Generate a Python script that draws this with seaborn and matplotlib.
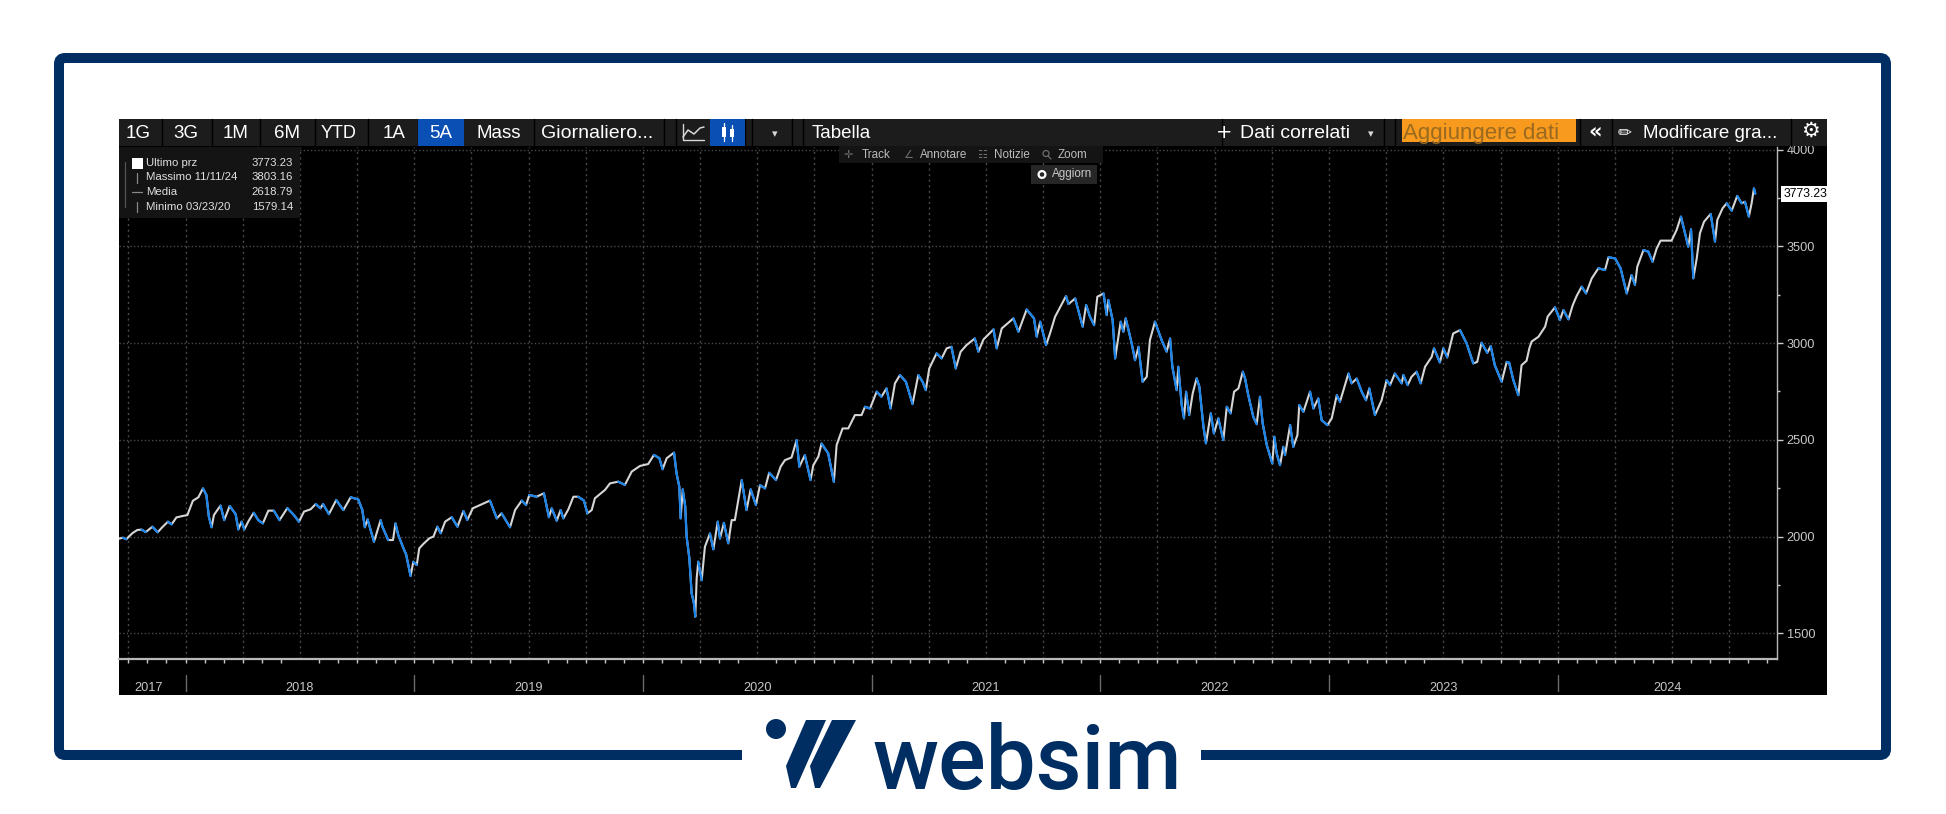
import numpy as np
import pandas as pd
import matplotlib
matplotlib.use("Agg")
import matplotlib.pyplot as plt
from matplotlib.patches import FancyBboxPatch, Rectangle, Polygon, Circle
from matplotlib.transforms import blended_transform_factory
import seaborn as sns

# ---------------- data ----------------
years = [
2017.709,2017.726,2017.741,2017.767,2017.789,2017.808,2017.826,2017.855,2017.878,2017.898,2017.923,2017.939,2017.960,2017.986,
2018.008,2018.032,2018.056,2018.076,2018.091,2018.102,2018.114,2018.124,2018.139,2018.153,2018.169,2018.193,2018.219,2018.231,2018.245,2018.257,
2018.274,2018.298,2018.318,2018.338,2018.362,2018.386,2018.411,2018.445,2018.474,2018.496,2018.518,2018.547,2018.569,2018.590,2018.601,2018.627,
2018.659,2018.690,2018.722,2018.755,2018.773,2018.784,2018.796,2018.824,2018.853,2018.860,2018.886,2018.907,2018.918,2018.930,2018.950,2018.965,2018.984,
2018.996,2019.011,2019.022,2019.040,2019.066,2019.084,2019.101,2019.116,2019.135,2019.164,2019.189,2019.215,2019.232,2019.256,2019.288,2019.331,
2019.361,2019.382,2019.419,2019.441,2019.470,2019.489,2019.503,2019.535,2019.567,2019.589,2019.601,2019.623,2019.640,2019.652,2019.674,2019.696,
2019.717,2019.742,2019.757,2019.776,2019.790,2019.834,2019.856,2019.892,2019.921,2019.951,2019.987,2020.023,2020.048,2020.072,2020.086,2020.104,
2020.136,2020.147,2020.159,2020.165,2020.174,2020.185,2020.191,2020.203,2020.213,2020.223,2020.229,2020.235,2020.242,2020.257,2020.271,2020.293,
2020.308,2020.327,2020.337,2020.354,2020.373,2020.388,2020.402,2020.432,2020.453,2020.471,2020.494,2020.512,2020.534,2020.552,2020.582,2020.602,
2020.621,2020.650,2020.672,2020.684,2020.708,2020.733,2020.745,2020.767,2020.781,2020.810,2020.835,2020.847,2020.873,2020.898,2020.927,2020.956,
2020.971,2020.993,2021.022,2021.043,2021.065,2021.083,2021.102,2021.124,2021.150,2021.179,2021.204,2021.223,2021.237,2021.252,2021.284,2021.306,
2021.328,2021.349,2021.368,2021.389,2021.415,2021.451,2021.467,2021.489,2021.533,2021.547,2021.569,2021.620,2021.642,2021.678,2021.710,2021.722,
2021.737,2021.763,2021.780,2021.802,2021.850,2021.861,2021.890,2021.923,2021.938,2021.955,2021.973,2021.987,2022.014,2022.028,2022.035,2022.054,
2022.065,2022.089,2022.101,2022.111,2022.137,2022.152,2022.167,2022.185,2022.203,2022.217,2022.239,2022.268,2022.290,2022.305,2022.315,2022.334,
2022.341,2022.356,2022.366,2022.375,2022.389,2022.404,2022.421,2022.433,2022.451,2022.462,2022.483,2022.497,2022.516,2022.538,2022.553,2022.570,
2022.585,2022.604,2022.623,2022.633,2022.647,2022.669,2022.684,2022.698,2022.710,2022.728,2022.752,2022.761,2022.771,2022.786,2022.800,2022.808,
2022.830,2022.844,2022.862,2022.870,2022.888,2022.917,2022.932,2022.953,2022.968,2022.993,2023.012,2023.034,2023.048,2023.085,2023.099,2023.121,
2023.143,2023.162,2023.176,2023.201,2023.230,2023.252,2023.267,2023.288,2023.318,2023.325,2023.344,2023.361,2023.383,2023.401,2023.420,2023.449,
2023.459,2023.485,2023.500,2023.517,2023.543,2023.573,2023.602,2023.631,2023.648,2023.667,2023.692,2023.707,2023.725,2023.755,2023.777,2023.788,
2023.806,2023.828,2023.842,2023.864,2023.876,2023.886,2023.916,2023.945,2023.956,2023.988,2024.010,2024.025,2024.047,2024.066,2024.083,2024.105,
2024.124,2024.149,2024.178,2024.207,2024.222,2024.251,2024.275,2024.302,2024.323,2024.338,2024.348,2024.375,2024.396,2024.415,2024.433,2024.450,
2024.498,2024.520,2024.539,2024.557,2024.571,2024.583,2024.593,2024.608,2024.622,2024.640,2024.669,2024.688,2024.698,2024.721,2024.739,2024.761,
2024.785,2024.804,2024.819,2024.836,2024.848,2024.858,2024.864]
closes = [
1989,1994,1986,2017,2034,2036,2023,2051,2022,2048,2077,2063,2099,2106,
2111,2185,2203,2249,2215,2103,2048,2111,2137,2160,2085,2158,2116,2037,2077,2037,
2077,2123,2085,2068,2134,2134,2085,2147,2111,2077,2129,2141,2168,2146,2168,2116,
2189,2137,2203,2192,2137,2048,2089,1973,2085,2054,1982,1982,2068,2008,1948,1905,1796,
1870,1853,1939,1962,1991,2000,2051,2017,2077,2100,2051,2132,2086,2146,2163,2186,
2094,2120,2048,2137,2186,2163,2215,2206,2224,2100,2146,2082,2137,2094,2141,2206,
2206,2186,2120,2137,2198,2241,2275,2284,2267,2336,2365,2375,2422,2405,2348,2405,
2434,2327,2258,2094,2244,2155,2000,1888,1707,1655,1586,1784,1870,1775,1947,2016,
1934,2077,1990,2071,1965,2085,2085,2292,2137,2244,2163,2266,2249,2330,2292,2361,
2395,2409,2499,2361,2421,2292,2369,2413,2481,2430,2283,2473,2559,2559,2628,2628,
2671,2662,2749,2723,2766,2662,2792,2835,2800,2685,2835,2800,2757,2869,2947,2921,
2973,2981,2869,2955,2990,3024,2956,3019,3071,2973,3076,3128,3059,3174,3128,3033,
3111,2990,3050,3136,3243,3202,3231,3085,3197,3136,3093,3240,3257,3145,3223,3119,
2921,3111,3059,3128,3000,2912,2981,2800,2826,3016,3111,3016,2956,3024,2878,2757,
2878,2680,2611,2749,2628,2740,2818,2775,2568,2482,2637,2533,2611,2499,2671,2637,
2749,2766,2852,2817,2731,2619,2581,2723,2585,2473,2378,2516,2430,2369,2464,2421,
2576,2464,2525,2680,2645,2749,2662,2714,2602,2576,2611,2731,2697,2843,2792,2817,
2749,2705,2766,2628,2705,2809,2783,2843,2792,2835,2783,2826,2852,2792,2878,2929,
2973,2900,2973,2926,3050,3067,2998,2895,2903,3002,2950,2985,2886,2800,2903,2898,
2809,2731,2886,2909,2973,3008,3033,3085,3137,3185,3120,3171,3123,3197,3244,3292,
3257,3335,3387,3378,3444,3438,3387,3257,3352,3301,3395,3481,3473,3421,3490,3530,
3530,3585,3654,3568,3499,3588,3335,3438,3568,3628,3668,3525,3637,3697,3723,3685,
3761,3723,3731,3654,3723,3800,3773]

year_labels = ["2017", "2018", "2019", "2020", "2021", "2022", "2023", "2024"]
year_label_pos = [2017.84, 2018.5, 2019.5, 2020.5, 2021.5, 2022.5, 2023.5, 2024.48]
year_starts = [2018, 2019, 2020, 2021, 2022, 2023, 2024]
y_major = [1500, 2000, 2500, 3000, 3500, 4000]
y_minor = [1750, 2250, 2750, 3250, 3750]
toolbar_left = ["1G", "3G", "1M", "6M", "YTD", "1A", "5A", "Mass", "Giornaliero..."]
legend_names = ["Ultimo prz", "Massimo 11/11/24", "Media", "Minimo 03/23/20"]
legend_values = ["3773.23", "3803.16", "2618.79", "1579.14"]
last_price = 3773.23

# ---------------- style ----------------
W, H = 1946, 814
NAVY = "#002d62"
BLUE = "#1a84ea"
SANS = ["Liberation Sans", "DejaVu Sans"]
sns.set_theme(style="dark", rc={"axes.grid": False})
plt.rcParams["font.family"] = SANS

fig = plt.figure(figsize=(W / 100, H / 100), dpi=100, facecolor="white")
bg = fig.add_axes([0, 0, 1, 1], zorder=0)
bg.set_xlim(0, W); bg.set_ylim(H, 0); bg.axis("off")

# frame with gap for the logo
bg.add_patch(FancyBboxPatch((59, 58), 1827, 697, boxstyle="round,pad=0,rounding_size=6",
                            fc="none", ec=NAVY, lw=7.2))
bg.add_patch(Rectangle((742, 740), 459, 30, fc="white", ec="none", zorder=2))

# black panel
bg.add_patch(Rectangle((119, 119), 1708, 576, fc="black", ec="none"))

# logo
bg.add_patch(Circle((776, 729), 10, fc=NAVY, ec="none", zorder=3))
bg.add_patch(Polygon([(806, 720), (826, 720), (796, 788), (791, 788), (786, 766)], fc=NAVY, ec="none", zorder=3))
bg.add_patch(Polygon([(832, 720), (856, 720), (820, 788), (815, 788), (810, 766)], fc=NAVY, ec="none", zorder=3))
bg.text(1027, 789, "websim", family="Roboto", fontsize=64, fontweight="medium", color=NAVY,
        ha="center", va="baseline", zorder=3)

# ---------------- chart ----------------
ax_l, ax_r, ax_t, ax_b = 119, 1777, 147, 659
ax = fig.add_axes([ax_l / W, 1 - ax_b / H, (ax_r - ax_l) / W, (ax_b - ax_t) / H], zorder=1)
ax.set_facecolor("black")
ax.patch.set_alpha(0)

df = pd.DataFrame({"year": years, "close": closes})
sns.lineplot(data=df, x="year", y="close", color="#d6d6d6", lw=1.5, errorbar=None,
             sort=False, ax=ax, zorder=3)

seg_rows = []
for i in range(len(closes) - 1):
    if closes[i + 1] < closes[i]:
        seg_rows.append((i, years[i], closes[i]))
        seg_rows.append((i, years[i + 1], closes[i + 1]))
down = pd.DataFrame(seg_rows, columns=["seg", "year", "close"])
sns.lineplot(data=down, x="year", y="close", units="seg", estimator=None, color=BLUE, lw=1.6,
             sort=False, ax=ax, zorder=4, legend=False)

ax.set_xlim(2017.709, 2024.959)
ax.set_ylim(1367, 4014)
ax.set_xlabel(""); ax.set_ylabel("")

for spine in ("top", "left"):
    ax.spines[spine].set_visible(False)
for spine in ("bottom", "right"):
    ax.spines[spine].set_visible(True)
    ax.spines[spine].set_color("#b8b8b8")
ax.spines["bottom"].set_linewidth(1.6)
ax.spines["right"].set_linewidth(1.0)

# gridlines
for v in y_major:
    ax.axhline(v, color="#4a4a4a", lw=1.0, ls=(0, (1, 1.6)), zorder=1, clip_on=False)
for v in np.arange(2017.75, 2024.9, 0.25):
    ax.axvline(v, color="#4a4a4a", lw=1.0, ls=(0, (1.5, 2.5)), zorder=1)

# ticks
ax.yaxis.tick_right()
ax.set_yticks(y_major)
ax.set_yticks(y_minor, minor=True)
ax.tick_params(axis="y", which="major", colors="#c8c8c8", length=4, width=1, pad=3,
               labelsize=9.2, right=True, left=False)
ax.tick_params(axis="y", which="minor", color="#c8c8c8", length=2.5, width=1, right=True, left=False)
ax.set_xticks(year_label_pos)
ax.set_xticklabels(year_labels)
ax.set_xticks(np.arange(2017.75, 2024.95, 1 / 12), minor=True)
ax.tick_params(axis="x", which="major", length=0, pad=16.5, labelsize=9.2, labelcolor="#c8c8c8", bottom=True)
ax.tick_params(axis="x", which="minor", color="#c8c8c8", length=3, width=1, bottom=True)

# year dividers under the axis
trans = blended_transform_factory(ax.transData, bg.transData)
for y in year_starts:
    ax.plot([y, y], [675, 691], transform=trans, color="#6a6a6a", lw=1.0, clip_on=False, zorder=5)

# last price tag
ax.annotate(f"{last_price:.2f}", xy=(1, last_price), xycoords=ax.get_yaxis_transform(),
            xytext=(4.5, 0), textcoords="offset points", fontsize=8.8, color="black", va="center", ha="left",
            bbox=dict(boxstyle="square,pad=0.16", fc="white", ec="none"), annotation_clip=False, zorder=6)

# ---------------- overlay: toolbar, legend, tools ----------------
ov = fig.add_axes([0, 0, 1, 1], zorder=2)
ov.set_xlim(0, W); ov.set_ylim(H, 0); ov.axis("off"); ov.patch.set_alpha(0)
BAR = "#1c1c1c"
ov.add_patch(Rectangle((119, 119), 1708, 27, fc=BAR, ec="none"))

xs = [138, 186, 236, 287, 339, 394, 441, 499, 597]
sizes = [13.5, 13.5, 13.5, 13.5, 13, 13.5, 13.5, 13.5, 14]
for label, x, s in zip(toolbar_left, xs, sizes):
    ov.text(x, 133, label, color="white", fontsize=s, ha="center", va="center", zorder=4)
for x in [162, 212, 260, 315, 368, 418, 534, 664, 676, 745, 752, 792, 803]:
    ov.plot([x, x], [119, 146], color="#000000", lw=1.0, zorder=3)
ov.add_patch(Rectangle((418, 119), 46, 27, fc="#0a50b4", ec="none", zorder=3))
ov.add_patch(Rectangle((710, 119), 35, 27, fc="#0a50b4", ec="none", zorder=3))

# chart type icons
ov.plot([683, 688, 694, 700, 704], [137, 130, 134, 128, 127], color="#d8d8d8", lw=1.1, zorder=4)
ov.plot([683, 683, 704], [124, 140, 140], color="#d8d8d8", lw=1.0, zorder=4)
ov.add_patch(Rectangle((722, 127), 4, 10, fc="white", ec="none", zorder=4))
ov.add_patch(Rectangle((730, 129), 4, 8, fc="white", ec="none", zorder=4))
ov.plot([724, 724], [123, 141], color="white", lw=0.9, zorder=4)
ov.plot([732, 732], [125, 141], color="white", lw=0.9, zorder=4)
ov.text(775, 134, "▾", family="DejaVu Sans", color="#d8d8d8", fontsize=8, ha="center", va="center", zorder=4)
ov.text(841, 133, "Tabella", color="white", fontsize=13.5, ha="center", va="center", zorder=4)

ov.text(1224, 132, "+", family="DejaVu Sans", color="white", fontsize=14, ha="center", va="center", zorder=4)
ov.text(1240, 133, "Dati correlati", color="white", fontsize=14, ha="left", va="center", zorder=4)
ov.text(1371, 134, "▾", family="DejaVu Sans", color="#d8d8d8", fontsize=8, ha="center", va="center", zorder=4)
ov.add_patch(Rectangle((1402, 119), 174, 23, fc="#f79a1e", ec="none", zorder=3))
ov.text(1403, 133, "Aggiungere dati", color="#9a6a20", fontsize=16, ha="left", va="center", zorder=4)
ov.text(1595, 131, "«", family="DejaVu Sans", color="white", fontsize=15, fontweight="bold", ha="center", va="center", zorder=4)
ov.text(1624, 132, "✏", family="DejaVu Sans", color="white", fontsize=12, ha="center", va="center", zorder=4)
ov.text(1643, 133, "Modificare gra...", color="white", fontsize=13.5, ha="left", va="center", zorder=4)
ov.text(1810, 131, "⚙", family="DejaVu Sans", color="white", fontsize=15, ha="center", va="center", zorder=4)
for x in [1222, 1384, 1395, 1580, 1612, 1791]:
    ov.plot([x, x], [119, 146], color="#000000", lw=1.0, zorder=3)

# legend block
ov.add_patch(Rectangle((119, 147), 181, 71, fc="#141414", ec="none", zorder=3))
row_y = [163, 177, 192, 207]
for name, val, y in zip(legend_names, legend_values, row_y):
    ov.text(146, y, name, color="#e0e0e0", fontsize=8.2, ha="left", va="center", zorder=4)
    ov.text(293, y, val, color="#e0e0e0", fontsize=8.2, ha="right", va="center", zorder=4)
ov.add_patch(Rectangle((132, 158), 11, 11, fc="white", ec="none", zorder=4))
ov.plot([125, 125], [162, 207], color="#555555", lw=0.9, zorder=4)
ov.plot([137, 137], [173, 183], color="#888888", lw=0.9, zorder=4)
ov.plot([132, 142], [192, 192], color="#888888", lw=0.9, zorder=4)
ov.plot([137, 137], [202, 212], color="#888888", lw=0.9, zorder=4)

# floating tools
ov.add_patch(Rectangle((839, 146), 264, 17, fc="#141414", ec="none", zorder=3))
for label, x in zip(["Track", "Annotare", "Notizie", "Zoom"], [862, 920, 994, 1058]):
    ov.text(x, 154.5, label, color="#bcbcbc", fontsize=8.4, ha="left", va="center", zorder=4)
for icon, x in zip(["✛", "∠", "☷"], [848, 908, 982]):
    ov.text(x, 154.5, icon, family="DejaVu Sans", color="#6e6e6e", fontsize=8, ha="center", va="center", zorder=4)
ov.add_patch(Circle((1046, 153.5), 3, fc="none", ec="#6e6e6e", lw=0.9, zorder=4))
ov.plot([1048, 1051], [156, 159], color="#6e6e6e", lw=0.9, zorder=4)
ov.add_patch(Rectangle((1031, 165), 66, 19, fc="#262626", ec="none", zorder=3))
ov.add_patch(Circle((1042, 174.5), 3.4, fc="none", ec="white", lw=1.6, zorder=4))
ov.text(1052, 174.5, "Aggiorn", color="#c8c8c8", fontsize=8.4, ha="left", va="center", zorder=4)

fig.savefig("out.png", dpi=100, facecolor="white")
